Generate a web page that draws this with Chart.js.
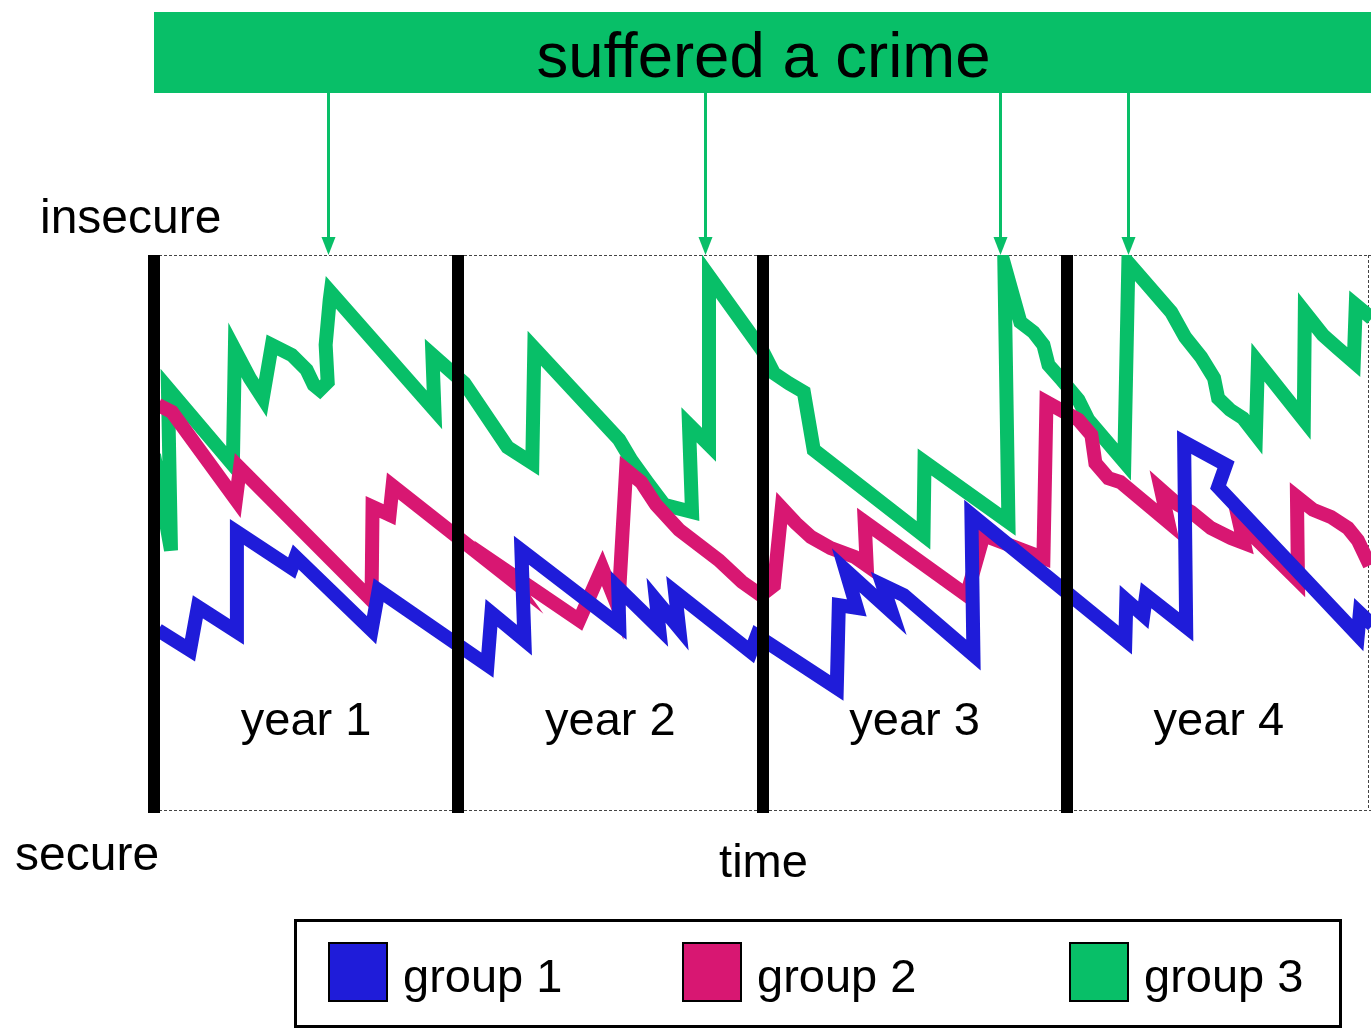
<!DOCTYPE html>
<html>
<head>
<meta charset="utf-8">
<title>suffered a crime</title>
<script src="https://cdn.jsdelivr.net/npm/chart.js@4.4.1/dist/chart.umd.min.js"></script>
<style>
  html, body { margin: 0; padding: 0; background: #fff; }
  canvas { display: block; }
</style>
</head>
<body>
<canvas id="chart" width="1371" height="1031"></canvas>
<script>
// time is in months (4 years), level is 0 = secure .. 100 = insecure
const seriesNames = ['group 1', 'group 2', 'group 3'];
const seriesColors = ['#1f1cd9', '#d81772', '#08bf68'];

const group1Months = [0.16, 1.42, 1.73, 3.27, 3.27, 5.43, 5.59, 8.58, 8.86, 13.15, 13.31, 14.61, 14.49, 18.35, 18.31, 19.92, 19.80, 20.71, 20.55, 23.54, 23.78, 26.93, 27.01, 27.72, 27.28, 29.09, 28.74, 29.57, 32.32, 32.24, 38.31, 38.35, 39.02, 39.13, 40.71, 40.63, 42.28, 41.97, 47.48, 47.56, 48.07];
const group1Levels = [32.4, 28.8, 36.6, 32.1, 50.1, 43.6, 45.6, 32.4, 39.6, 26.1, 35.5, 30.6, 46.8, 33.3, 40.0, 32.8, 37.8, 32.8, 39.3, 28.5, 31.4, 22.0, 36.9, 36.4, 43.2, 35.7, 40.5, 38.7, 27.9, 53.2, 30.6, 37.8, 35.1, 38.7, 33.0, 66.3, 62.2, 58.2, 31.5, 35.5, 33.3];

const group2Months = [0.16, 0.71, 3.23, 3.39, 8.58, 8.62, 9.29, 9.41, 14.02, 13.74, 16.77, 17.68, 18.31, 18.62, 19.21, 19.80, 20.71, 22.28, 23.19, 23.94, 24.45, 24.76, 25.31, 25.91, 26.69, 27.64, 28.11, 28.03, 32.05, 32.72, 35.08, 35.20, 36.46, 36.97, 37.13, 37.64, 38.11, 40.0, 39.72, 40.39, 40.91, 41.69, 42.48, 42.99, 42.80, 45.12, 45.08, 45.71, 46.42, 47.09, 47.48, 47.95];
const group2Levels = [73.0, 71.7, 55.9, 61.6, 37.8, 54.6, 53.2, 58.4, 41.8, 43.6, 34.2, 43.6, 36.4, 61.3, 59.1, 55.0, 50.5, 45.0, 41.1, 38.7, 40.5, 54.4, 51.7, 49.2, 47.2, 45.6, 44.1, 51.9, 38.7, 49.5, 45.4, 73.5, 70.3, 67.6, 62.5, 59.8, 59.1, 51.9, 57.7, 55.0, 53.7, 50.8, 49.0, 48.1, 51.9, 41.4, 56.4, 54.1, 52.8, 50.8, 48.6, 44.1];

const group3Months = [0.0, 0.67, 0.55, 3.11, 3.19, 3.78, 4.29, 4.65, 5.43, 6.02, 6.30, 6.54, 6.85, 6.77, 6.93, 6.97, 11.06, 10.98, 12.24, 13.94, 14.92, 15.0, 18.35, 18.82, 19.45, 20.12, 21.22, 21.10, 21.89, 21.89, 23.98, 24.45, 25.04, 25.63, 26.02, 30.35, 30.39, 33.70, 33.54, 34.17, 34.69, 35.08, 35.28, 35.75, 36.46, 36.85, 38.27, 38.43, 40.12, 40.67, 41.30, 41.81, 41.97, 42.44, 42.95, 43.46, 43.54, 45.35, 45.39, 46.10, 46.69, 47.32, 47.40, 48.03];
const group3Levels = [64.0, 46.8, 76.0, 62.2, 82.9, 77.8, 74.2, 83.8, 82.0, 79.3, 76.6, 75.7, 77.1, 83.8, 91.9, 93.3, 72.1, 82.0, 76.9, 65.4, 62.5, 83.2, 66.7, 63.1, 59.1, 55.0, 53.7, 69.4, 65.8, 96.2, 82.9, 78.7, 76.9, 75.3, 64.9, 49.5, 62.7, 51.9, 98.2, 87.9, 86.1, 83.8, 80.2, 77.8, 73.9, 70.3, 62.7, 98.6, 89.7, 85.2, 81.6, 77.8, 74.2, 72.1, 70.6, 67.6, 80.7, 70.3, 89.7, 85.6, 83.2, 80.7, 91.0, 88.6];

const yearStarts = [0, 12, 24, 36];
const yearMiddles = [6, 18, 30, 42];
const yearLabels = ['year 1', 'year 2', 'year 3', 'year 4'];
const crimeMonths = [6.85, 21.75, 33.35, 38.4];

const bannerText = 'suffered a crime';
const topLabel = 'insecure';
const bottomLabel = 'secure';
const timeLabel = 'time';

const FONT = '"Liberation Sans", Arial, sans-serif';
const GREEN = seriesColors[2];

function toPoints(months, levels) {
  return months.map((m, i) => ({x: m, y: levels[i]}));
}

function buildDatasets() {
  const all = [
    [group1Months, group1Levels],
    [group2Months, group2Levels],
    [group3Months, group3Levels],
  ];
  return all.map(([months, levels], i) => ({
    label: seriesNames[i],
    data: toPoints(months, levels),
    borderColor: seriesColors[i],
    backgroundColor: seriesColors[i],
    borderWidth: 14,
    borderJoinStyle: 'miter',
    borderCapStyle: 'butt',
    pointRadius: 0,
    tension: 0,
    fill: false,
  }));
}

function drawFrame(chart) {
  const {ctx, chartArea: {left, right, top, bottom}} = chart;
  ctx.save();
  ctx.strokeStyle = '#444';
  ctx.lineWidth = 1;
  ctx.setLineDash([3, 2]);
  ctx.beginPath();
  ctx.moveTo(left, top + 0.5);
  ctx.lineTo(right, top + 0.5);
  ctx.moveTo(left, bottom + 0.5);
  ctx.lineTo(right, bottom + 0.5);
  ctx.moveTo(right - 2.5, top);
  ctx.lineTo(right - 2.5, bottom);
  ctx.stroke();
  ctx.restore();
}

function drawYears(chart) {
  const {ctx, chartArea: {top, bottom}, scales: {x}} = chart;
  ctx.save();
  ctx.fillStyle = '#000';
  yearStarts.forEach(m => {
    const px = Math.round(x.getPixelForValue(m));
    ctx.fillRect(px - 6, top, 12, bottom - top + 3);
  });
  ctx.font = `47px ${FONT}`;
  ctx.textAlign = 'center';
  ctx.textBaseline = 'alphabetic';
  yearLabels.forEach((label, i) => {
    ctx.fillText(label, x.getPixelForValue(yearMiddles[i]), 735);
  });
  ctx.restore();
}

function drawBanner(chart) {
  const {ctx, chartArea: {left, right, top}, scales: {x}} = chart;
  ctx.save();
  ctx.fillStyle = GREEN;
  ctx.fillRect(left, 12, right - left, 81);
  ctx.fillStyle = '#000';
  ctx.font = `63.5px ${FONT}`;
  ctx.textAlign = 'center';
  ctx.fillText(bannerText, (left + right) / 2 + 1, 77);

  ctx.strokeStyle = GREEN;
  ctx.fillStyle = GREEN;
  ctx.lineWidth = 3;
  crimeMonths.forEach(m => {
    const px = Math.round(x.getPixelForValue(m)) + 0.5;
    ctx.beginPath();
    ctx.moveTo(px, 93);
    ctx.lineTo(px, top - 14);
    ctx.stroke();
    ctx.beginPath();
    ctx.moveTo(px - 7, top - 18);
    ctx.lineTo(px + 7, top - 18);
    ctx.lineTo(px, top);
    ctx.closePath();
    ctx.fill();
  });
  ctx.restore();
}

function drawAxisText(chart) {
  const {ctx, chartArea: {left, right}} = chart;
  ctx.save();
  ctx.fillStyle = '#000';
  ctx.font = `48px ${FONT}`;
  ctx.textAlign = 'left';
  ctx.fillText(topLabel, 40, 233);
  ctx.fillText(bottomLabel, 15, 870);
  ctx.font = `47px ${FONT}`;
  ctx.textAlign = 'center';
  ctx.fillText(timeLabel, (left + right) / 2 + 1, 877);
  ctx.restore();
}

function drawLegend(chart) {
  const {ctx} = chart;
  const swatchX = [328, 682, 1069];
  ctx.save();
  ctx.strokeStyle = '#000';
  ctx.lineWidth = 3;
  ctx.strokeRect(295.5, 920.5, 1045, 106);
  ctx.font = `47px ${FONT}`;
  ctx.textAlign = 'left';
  chart.data.datasets.forEach((ds, i) => {
    ctx.fillStyle = ds.borderColor;
    ctx.fillRect(swatchX[i], 942, 60, 60);
    ctx.lineWidth = 2;
    ctx.strokeRect(swatchX[i] + 1, 943, 58, 58);
    ctx.fillStyle = '#000';
    ctx.fillText(ds.label, swatchX[i] + 75, 992);
  });
  ctx.restore();
}

const decorations = {
  id: 'decorations',
  beforeDatasetsDraw(chart) {
    drawFrame(chart);
    // only the very sharpest turns get bevelled
    chart.ctx.miterLimit = 8;
  },
  afterDatasetsDraw(chart) {
    drawYears(chart);
    drawBanner(chart);
    drawAxisText(chart);
    drawLegend(chart);
  },
};

new Chart(document.getElementById('chart'), {
  type: 'line',
  data: {datasets: buildDatasets()},
  options: {
    responsive: false,
    animation: false,
    devicePixelRatio: 1,
    layout: {padding: {left: 154, right: 0, top: 255, bottom: 221}},
    scales: {
      x: {type: 'linear', min: 0, max: 48, display: false},
      y: {type: 'linear', min: 0, max: 100, display: false},
    },
    plugins: {
      legend: {display: false},
      tooltip: {enabled: false},
      title: {display: false},
    },
  },
  plugins: [decorations],
});
</script>
</body>
</html>
